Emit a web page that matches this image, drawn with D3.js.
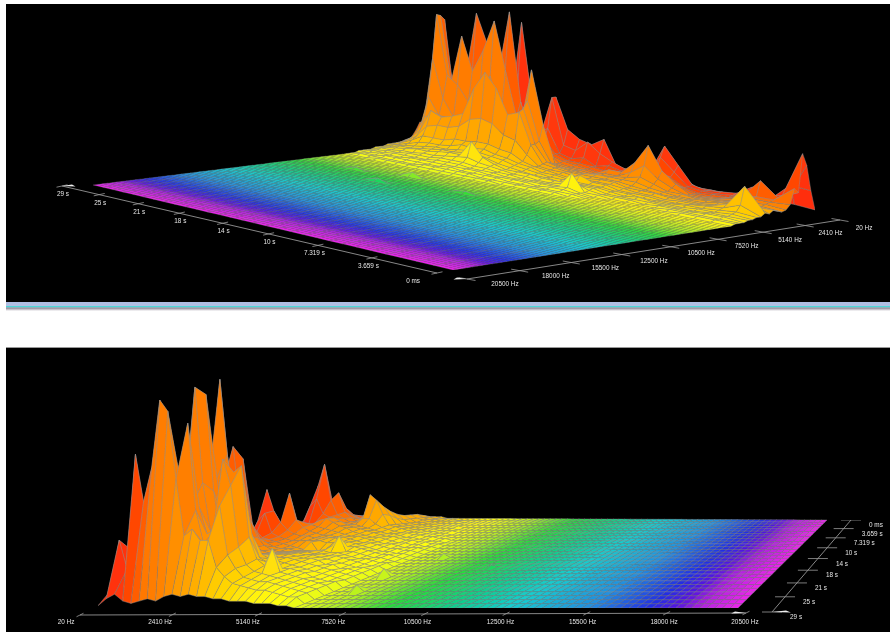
<!DOCTYPE html>
<html>
<head>
<meta charset="utf-8">
<title>Spectrum surface</title>
<script src="https://d3js.org/d3.v7.min.js"></script>
<style>
html, body { margin: 0; background: #fff; }
svg { display: block; }
text { font-family: "Liberation Sans", Arial, sans-serif; font-size: 6.4px; fill: #e6e6e6; }
</style>
</head>
<body>
<script>
const freqTickLabels = ["20 Hz", "2410 Hz", "5140 Hz", "7520 Hz", "10500 Hz", "12500 Hz", "15500 Hz", "18000 Hz", "20500 Hz"];
const timeTickLabels = ["0 ms", "3.659 s", "7.319 s", "10 s", "14 s", "18 s", "21 s", "25 s", "29 s"];
const timeTickValues = [0, 3.659, 7.319, 10.98, 14.64, 18.3, 21.96, 25.62, 29.27];

const binHz = 256;
const binCount = 80;
const totalSeconds = 29.27;

const colorHz = [20, 800, 1300, 1800, 2600, 3600, 4600, 5600, 7300, 9000, 11000, 13000, 15500, 17500, 18500, 19200, 20500];
const colorHex = ["#ff2a0c", "#ff3c06", "#ff6800", "#ff8800", "#ffa800", "#ffd000", "#fff010", "#ffff10", "#b0f020", "#28dc38", "#10d088", "#12cdd0", "#2090e0", "#2030e4", "#5a14e0", "#b020e0", "#f020f0"];

// one row per second of the recording, one value per 256 Hz bin, bins not listed are flat floor
const topRows = [
  [2,15,32,40,15,18,8,5,4,5,6,4,5,3,3,2,2,1,1,1],
  [3,16,8,10,9,8,7,6,5,5,6,9,20,8,4,3,2,2,1,1],
  [3,6,8,8,18,8,7,5,6,6,5,5,6,4,3,2,2,2,1,1],
  [2,5,11,7,7,6,5,4,4,4,4,3,3,3,2,2,1,1,1,1],
  [2,3,5,4,3,3,3,3,3,3,2,2,2,2,2,1,1,1,1],
  [1,3,4,3,3,2,2,2,2,2,2,2,2,1,1,1,1,1],
  [2,3,3,3,2,2,2,2,3,2,2,2,1,1,1,1,1],
  [2,3,5,4,4,5,7,5,3,3,2,3,2,2,1,2,1,1],
  [4,8,16,12,9,10,14,9,6,4,3,3,2,2,2,1,1,1],
  [6,18,27,20,12,18,29,16,9,6,4,3,3,2,2,2,1,1,1],
  [5,9,10,8,10,14,16,10,7,6,5,5,4,4,3,3,3,2,1,1,1,1],
  [4,6,7,6,6,7,8,6,6,6,5,5,4,4,3,3,3,5,12,3,2,1,1],
  [4,6,7,6,6,7,8,6,5,6,5,4,4,7,3,3,3,3,2,2,2,1,1],
  [4,7,10,8,5,4,4,4,4,5,5,4,3,3,3,2,3,2,2,2,1,1,1],
  [8,23,14,6,6,5,5,5,5,5,5,5,4,4,3,3,3,2,2,2,2,1,1],
  [8,18,20,10,7,6,5,5,5,6,6,5,5,4,4,3,4,3,2,2,2,1,1],
  [8,20,13,8,7,7,6,6,7,8,7,6,6,6,5,4,4,3,3,2,2,2,1,1],
  [9,25,15,10,10,9,12,30,20,18,18,12,8,7,6,5,4,4,3,3,2,2,1,1],
  [15,45,45,25,18,25,45,65,45,40,38,20,12,9,8,6,6,5,4,3,3,2,2,1],
  [8,14,18,20,15,14,18,24,30,33,35,22,13,10,9,8,9,6,4,3,3,2,2,1],
  [18,35,20,20,40,30,22,22,25,30,51,28,15,12,10,10,18,8,5,4,3,3,2,1],
  [40,90,45,45,98,60,30,25,25,40,60,30,15,11,10,9,8,7,5,4,3,2,2,1],
  [18,30,25,30,55,91,55,30,30,35,48,28,14,12,9,8,8,6,5,4,3,2,2,1],
  [15,22,25,45,74,70,40,25,25,25,30,22,14,10,8,8,7,5,4,3,3,2,1,1],
  [15,25,35,45,93,55,35,24,24,24,27,20,12,9,8,7,6,5,4,3,3,2,1,1],
  [15,22,28,35,50,77,45,24,24,24,25,20,12,9,7,6,6,4,4,3,2,2,1,1],
  [8,14,20,24,30,45,50,35,24,26,28,18,12,8,6,5,5,4,3,3,2,2,1,1],
  [6,12,22,55,85,88,89,60,35,22,14,10,8,6,5,5,4,3,3,2,2,1,1],
  [3,5,7,8,12,10,10,9,9,8,7,6,5,4,4,3,3,3,2,2,1,1,1],
  [1,2,2,3,8,15,10,6,4,4,3,3,3,3,2,2,2,1,1,1,1]
];

const bottomRows = [
  [1,1,2,2,1,1,1,1,1,1,1,1,1],
  [2,3,3,2,2,2,2,2,2,3,3,2,1,1,1,1],
  [3,4,4,3,3,3,3,3,3,4,5,3,2,2,1,1,1,1],
  [4,5,5,4,4,4,4,4,4,5,6,4,3,2,2,1,1,1,1],
  [5,6,6,6,6,6,5,5,5,6,7,5,3,3,2,2,1,1,1,1],
  [5,7,7,8,8,7,6,6,6,7,9,6,4,3,3,2,2,1,1,1],
  [6,8,9,10,10,8,7,6,7,9,12,8,5,4,3,3,2,2,1,1,1],
  [7,10,12,14,15,11,9,8,10,14,16,11,6,5,4,3,3,2,2,1,1],
  [7,10,13,20,25,14,11,9,12,24,21,13,7,6,5,4,3,3,2,2,1,1],
  [8,16,30,42,22,14,12,10,10,12,12,9,7,6,5,4,4,3,3,2,2,1,1],
  [7,12,20,24,16,14,13,11,10,10,9,8,7,6,5,5,4,3,3,2,2,1,1],
  [6,8,10,11,12,13,14,15,13,11,10,9,8,7,6,5,5,4,3,3,2,2,1,1],
  [6,8,9,9,11,13,15,16,14,12,11,9,8,7,6,6,5,4,3,3,2,2,1,1],
  [6,8,10,11,14,15,14,13,12,11,10,9,8,8,7,6,5,4,4,3,2,2,2,1],
  [7,9,12,14,32,18,14,12,11,10,10,9,9,8,7,6,6,5,4,3,3,2,2,1],
  [7,12,35,24,18,14,12,11,11,10,10,10,10,8,8,7,6,5,4,3,3,2,2,1],
  [7,11,20,24,14,12,11,10,10,10,10,10,9,9,8,7,7,6,5,4,3,3,2,1],
  [6,9,12,14,13,12,11,10,9,8,7,11,6,7,9,14,6,6,5,4,3,3,2,1],
  [6,8,12,16,20,14,12,10,9,9,8,8,8,8,8,7,7,6,5,4,4,3,2,2],
  [7,10,18,30,55,25,16,12,10,9,9,9,9,9,8,8,7,7,6,5,4,3,2,2],
  [8,12,20,35,62,30,18,13,11,10,10,10,10,10,9,9,8,7,6,5,4,3,3,2],
  [9,14,22,30,45,45,25,15,12,11,11,11,11,11,10,9,9,8,6,6,4,4,3,2],
  [10,16,30,40,55,96,60,25,15,13,12,12,12,11,11,10,9,8,7,6,5,4,3,2],
  [10,16,28,36,42,50,50,30,18,14,13,13,14,12,11,10,9,8,7,6,5,4,3,2],
  [10,18,26,32,38,55,90,45,22,16,15,15,25,14,12,10,9,9,8,7,5,4,3,3],
  [12,20,28,34,40,55,94,50,28,20,30,55,58,25,15,12,20,9,8,7,6,5,4,3],
  [14,20,28,15,20,25,35,40,40,28,30,62,50,22,14,11,10,9,8,7,6,5,4,3],
  [16,22,30,20,25,30,40,55,79,40,25,25,42,20,14,10,9,8,8,7,6,5,4,3],
  [6,28,15,66,45,60,90,85,55,30,33,28,28,16,12,9,8,7,6,6,5,4,3,3],
  [1,4,6,3,2,3,4,3,5,6,5,6,5,5,4,4,3,3,3,2,2,2,1,1]
];

// small lumps further up the spectrum: [row, bin, level]
const topBumps = [[20, 38, 2], [20, 30, 3], [14, 34, 1.5], [24, 33, 1.5]];
const bottomBumps = [[21, 26, 4], [25, 27, 3], [15, 28, 2], [18, 38, 1]];

const panels = [
  {
    rows: topRows, bumps: topBumps, peak: 155, depthPower: 0.12, timeExp: 0.9, freqExp: 1.14,
    corners: { nearHigh: [453, 270], nearLow: [815, 213], farLow: [440, 142], farHigh: [93, 185] },
    timeAxis: [[437, 273], [62, 186]], freqAxis: [[840, 220], [467, 279]],
    freqLabels: [[864, 230], [505, 286]],
    timeTick: [11, -2.4], freqTick: [17, 3], timeAnchor: "end", timeLabel: [7, 10], firstTimeShift: -24,
    lineWidth: 0.45, floorLine: 0.3, tipTime: 10, tipFreq: -10
  },
  {
    rows: bottomRows, bumps: bottomBumps, peak: 230, depthPower: 1, timeExp: 1, freqExp: 0.95,
    corners: { nearHigh: [827, 520], nearLow: [372, 518], farLow: [98, 608], farHigh: [738, 608] },
    timeAxis: [[851, 520], [772, 612]], freqAxis: [[80, 615], [746, 613]],
    freqLabels: [[66, 624], [745, 624]],
    timeTick: [20, 0], freqTick: [7, -3.5], timeAnchor: "start", timeLabel: [18, 7], firstTimeShift: 0,
    lineWidth: 0.45, floorLine: 0.55, tipTime: 14, tipFreq: -11
  }
];

const colorOf = d3.scaleLinear().domain(colorHz).range(colorHex).interpolate(d3.interpolateRgb);
const levelToFrac = d3.scaleLinear().domain([0, 100]).range([0, 1]);
const rowToSeconds = d3.scaleLinear().domain([0, 29]).range([0, totalSeconds]);
const binToHz = d3.scaleLinear().domain([0, binCount]).range([20, 20500]);
const hzToU = d3.scaleLinear().domain([20500, 20]).range([0, 1]);
// the taller a cell stands the more it goes to orange
const levelToOrange = d3.scaleLinear().domain([10, 50]).range([0, 0.9]).clamp(true);

const svg = d3.select("body").append("svg").attr("width", 890).attr("height", 632);

const defs = svg.append("defs");
defs.append("filter").attr("id", "soft").attr("x", 0).attr("y", 0).attr("width", 1).attr("height", 1)
  .append("feGaussianBlur").attr("stdDeviation", 0.45);
const fade = defs.append("linearGradient").attr("id", "fade").attr("x1", 0).attr("x2", 0).attr("y1", 0).attr("y2", 1);
fade.append("stop").attr("offset", 0).attr("stop-color", "#7f7488");
fade.append("stop").attr("offset", 1).attr("stop-color", "#fff");

svg.append("rect").attr("x", 6).attr("y", 4).attr("width", 884).attr("height", 298).attr("fill", "#000");
svg.append("rect").attr("x", 6).attr("y", 302).attr("width", 884).attr("height", 4).attr("fill", "#b0bee2");
svg.append("rect").attr("x", 6).attr("y", 306).attr("width", 884).attr("height", 1.5).attr("fill", "#4cd6d8");
svg.append("rect").attr("x", 6).attr("y", 307.5).attr("width", 884).attr("height", 3.5).attr("fill", "url(#fade)");
svg.append("rect").attr("x", 6).attr("y", 347).attr("width", 884).attr("height", 1).attr("fill", "#999");
svg.append("rect").attr("x", 6).attr("y", 348).attr("width", 884).attr("height", 284).attr("fill", "#000");

// maps the unit square of the floor on to the four corners seen on screen
function floorMap(c) {
  const [x0, y0] = c.nearHigh, [x1, y1] = c.nearLow, [x2, y2] = c.farLow, [x3, y3] = c.farHigh;
  const dx1 = x1 - x2, dx2 = x3 - x2, sx = x0 - x1 + x2 - x3;
  const dy1 = y1 - y2, dy2 = y3 - y2, sy = y0 - y1 + y2 - y3;
  const det = dx1 * dy2 - dx2 * dy1;
  const g = (sx * dy2 - dx2 * sy) / det;
  const h = (dx1 * sy - sx * dy1) / det;
  const a = x1 - x0 + g * x1, b = x3 - x0 + h * x3;
  const d = y1 - y0 + g * y1, e = y3 - y0 + h * y3;
  const wMin = Math.min(1, 1 + g, 1 + h, 1 + g + h);
  return (u, v) => {
    const w = g * u + h * v + 1;
    return { x: (a * u + b * v + x0) / w, y: (d * u + e * v + y0) / w, depth: wMin / w };
  };
}

function drawPanel(p) {
  const project = floorMap(p.corners);
  const timeToV = d3.scalePow().exponent(p.timeExp).domain([0, totalSeconds]).range([0, 1]);
  const heightOf = d3.scaleLinear().domain([0, 1]).range([0, p.peak]);
  const levels = p.rows.map(r => r.slice());
  p.bumps.forEach(([r, b, a]) => { levels[r][b] = a; });

  const vertex = (r, b) => {
    const pt = project(hzToU(binToHz(b)), timeToV(rowToSeconds(r)));
    const level = levels[r][b] ?? 0;
    return { base: pt.y, level, pos: [pt.x, pt.y - heightOf(levelToFrac(level)) * Math.pow(pt.depth, p.depthPower)] };
  };

  const cells = [];
  d3.range(levels.length - 1).forEach(r => {
    d3.range(binCount).forEach(b => {
      const corners = [vertex(r, b), vertex(r, b + 1), vertex(r + 1, b + 1), vertex(r + 1, b)];
      const hz = binToHz(b + 0.5);
      const level = d3.mean(corners, c => c.level);
      const mix = hz > 1300 ? levelToOrange(level) : 0;
      cells.push({
        r, b, level,
        order: d3.mean(corners, c => c.base),
        points: corners.map(c => c.pos),
        color: d3.interpolateRgb(colorOf(hz), "#ff7c00")(mix)
      });
    });
  });
  cells.sort((m, n) => d3.ascending(m.order, n.order) || d3.ascending(m.b, n.b));

  const outline = d3.line().curve(d3.curveLinearClosed);
  const g = svg.append("g").attr("filter", "url(#soft)");
  g.selectAll("path").data(cells).join("path")
    .attr("d", d => outline(d.points))
    .attr("fill", d => d.color)
    .attr("stroke", "#8f8f8f")
    .attr("stroke-width", d => d.level > 0 ? p.lineWidth : p.floorLine)
    .attr("stroke-opacity", d => d.level > 0 ? 0.95 : 0.7)
    .attr("stroke-linejoin", "round");

  // axes
  const ax = svg.append("g").attr("filter", "url(#soft)");
  const timeFrac = sec => {
    const a = project(0, 0), b = project(0, 1), c = project(0, timeToV(sec));
    return Math.hypot(c.x - a.x, c.y - a.y) / Math.hypot(b.x - a.x, b.y - a.y);
  };
  const lerp = ([a, b], t) => [a[0] + (b[0] - a[0]) * t, a[1] + (b[1] - a[1]) * t];
  const freqFrac = d3.scalePow().exponent(p.freqExp).domain([0, freqTickLabels.length - 1]).range([0, 1]);

  [p.timeAxis, p.freqAxis].forEach(line => {
    ax.append("line")
      .attr("x1", line[0][0]).attr("y1", line[0][1])
      .attr("x2", line[1][0]).attr("y2", line[1][1])
      .attr("stroke", "#a8a8a8").attr("stroke-width", 0.8);
  });

  const timeTicks = timeTickValues.map((sec, i) => ({ pos: lerp(p.timeAxis, timeFrac(sec)), label: timeTickLabels[i], i }));
  ax.selectAll(".tt").data(timeTicks).join("line").attr("class", "tt")
    .attr("x1", d => d.pos[0] - p.timeTick[0] / 2).attr("y1", d => d.pos[1] - p.timeTick[1] / 2)
    .attr("x2", d => d.pos[0] + p.timeTick[0] / 2).attr("y2", d => d.pos[1] + p.timeTick[1] / 2)
    .attr("stroke", "#9a9a9a").attr("stroke-width", 0.8);
  ax.selectAll(".tl").data(timeTicks).join("text").attr("class", "tl")
    .attr("x", d => d.pos[0] + p.timeLabel[0] + (d.i === 0 ? p.firstTimeShift : 0))
    .attr("y", d => d.pos[1] + p.timeLabel[1])
    .attr("text-anchor", p.timeAnchor)
    .text(d => d.label);

  const freqTicks = freqTickLabels.map((label, i) => ({
    pos: lerp(p.freqAxis, freqFrac(i)),
    at: lerp(p.freqLabels, freqFrac(i)),
    label
  }));
  ax.selectAll(".ft").data(freqTicks).join("line").attr("class", "ft")
    .attr("x1", d => d.pos[0] - p.freqTick[0] / 2).attr("y1", d => d.pos[1] - p.freqTick[1] / 2)
    .attr("x2", d => d.pos[0] + p.freqTick[0] / 2).attr("y2", d => d.pos[1] + p.freqTick[1] / 2)
    .attr("stroke", "#9a9a9a").attr("stroke-width", 0.8);
  ax.selectAll(".fl").data(freqTicks).join("text").attr("class", "fl")
    .attr("x", d => d.at[0]).attr("y", d => d.at[1])
    .attr("text-anchor", "middle")
    .text(d => d.label);

  // little white arrowheads where the two axes meet
  const tip = (at, dx) => ax.append("path")
    .attr("d", `M${at[0]},${at[1]}l${dx},-1.6l${dx * 0.35},2.2z`)
    .attr("fill", "#eee");
  tip(p.timeAxis[1], p.tipTime);
  tip(p.freqAxis[1], p.tipFreq);
}

panels.forEach(drawPanel);
</script>
</body>
</html>
